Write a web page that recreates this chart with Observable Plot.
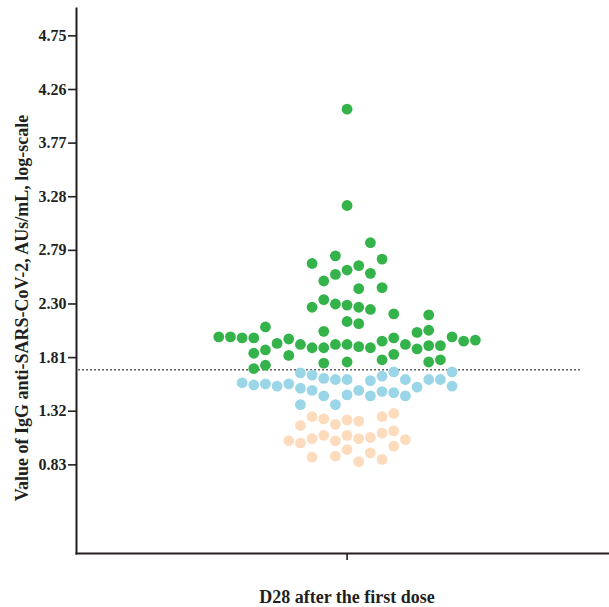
<!DOCTYPE html>
<html>
<head>
<meta charset="utf-8">
<script src="https://cdn.jsdelivr.net/npm/d3@7"></script>
<script src="https://cdn.jsdelivr.net/npm/@observablehq/plot@0.6"></script>
<style>
  html, body { margin: 0; padding: 0; background: #fff; }
  #chart svg { display: block; }
</style>
</head>
<body>
<div id="chart"></div>
<script>
// ---- Data ----
const yTicks = [0.83, 1.32, 1.81, 2.30, 2.79, 3.28, 3.77, 4.26, 4.75];
const cutoff = [1.70];
const groupLabel = "D28 after the first dose";
const yTitle = "Value of IgG anti-SARS-CoV-2, AUs/mL, log-scale";

// swarm column index (0 = centre) and value for each subject
const greenColumn = [0, 0, 2, -1, 3, -3, 1, -1, 0, 2, -2, 1, 3, -2, -3, -1, 0, 1, 2, 4, 7, 0, 1, -2, -7, 7, 6,
  -11, -10, -9, -8, -5, -6, -4, -3, -2, -1, 0, 1, 2, 3, 4, 5, 9, 10, 11,
  -8, -7, -5, 6, 7, 8, -2, 0, 3, 4, 7, 8, -8, -7];
const greenValue = [4.08, 3.20, 2.86, 2.74, 2.71, 2.67, 2.65, 2.57, 2.61, 2.58, 2.51, 2.44, 2.45, 2.34, 2.27, 2.30, 2.29, 2.27, 2.25, 2.21, 2.20, 2.14, 2.12, 2.05, 2.09, 2.06, 2.04,
  2.00, 2.00, 1.99, 1.99, 1.98, 1.94, 1.93, 1.90, 1.90, 1.93, 1.93, 1.91, 1.90, 1.96, 1.99, 1.93, 2.00, 1.96, 1.97,
  1.85, 1.88, 1.83, 1.89, 1.92, 1.92, 1.76, 1.77, 1.79, 1.84, 1.77, 1.79, 1.71, 1.74];

const blueColumn = [-4, -3, -2, -1, 0, 2, 3, 4, 5, 6, 7, 8, 9, 9, -9, -8, -7, -6, -5, -4, -3, -2, 0, 1, 2, 3, 4, 5, -4, -1];
const blueValue = [1.67, 1.65, 1.62, 1.61, 1.61, 1.60, 1.64, 1.68, 1.61, 1.54, 1.61, 1.61, 1.68, 1.55, 1.58, 1.56, 1.57, 1.55, 1.57, 1.53, 1.51, 1.46, 1.47, 1.51, 1.46, 1.50, 1.49, 1.46, 1.38, 1.38];

const peachColumn = [-3, -2, -1, 0, 1, 3, 4, -4, -2, 0, -3, -1, 1, 2, 3, 4, 5, -5, -4, 0, -1, 2, 4, -3, 1, 3];
const peachValue = [1.27, 1.25, 1.20, 1.24, 1.23, 1.27, 1.30, 1.19, 1.10, 1.10, 1.07, 1.05, 1.07, 1.08, 1.12, 1.14, 1.06, 1.05, 1.03, 0.97, 0.91, 0.94, 1.00, 0.90, 0.86, 0.88];

const groupNames = ["green", "blue", "peach"];
const groupColors = ["#33b34a", "#9ad6e7", "#fddbbd"];

// ---- Build rows ----
const rows = [];
greenColumn.forEach((c, i) => rows.push({col: c, value: greenValue[i], group: "green"}));
blueColumn.forEach((c, i) => rows.push({col: c, value: blueValue[i], group: "blue"}));
peachColumn.forEach((c, i) => rows.push({col: c, value: peachValue[i], group: "peach"}));

const serif = "'Liberation Serif', 'Times New Roman', serif";
const ink = "#231f20";

const chart = Plot.plot({
  width: 609,
  height: 607,
  marginTop: 8,
  marginBottom: 54,
  marginLeft: 76,
  marginRight: 0,
  style: {fontFamily: serif, fontWeight: "bold", color: ink, background: "#fff"},
  x: {domain: [-23.2, 22.5]},
  y: {domain: [0.02, 5.0]},
  color: {domain: groupNames, range: groupColors},
  marks: [
    Plot.axisY({ticks: yTicks, tickFormat: d3.format(".2f"), tickSize: 8, tickPadding: 2,
      fontSize: 16, fontWeight: "bold", stroke: ink, strokeWidth: 1.6, label: null}),
    Plot.axisX({ticks: [0], tickSize: 7, tickFormat: () => "", stroke: ink, strokeWidth: 1.6, label: null}),
    Plot.text([yTitle], {frameAnchor: "left", textAnchor: "middle", rotate: -90, dx: -54, dy: 27, fontSize: 18, fontWeight: "bold", fill: ink}),
    Plot.text([groupLabel], {frameAnchor: "bottom", dx: 4, dy: 49, fontSize: 18, fontWeight: "bold", fill: ink}),
    Plot.frame({anchor: "left", stroke: ink, strokeWidth: 2}),
    Plot.frame({anchor: "bottom", stroke: ink, strokeWidth: 2}),
    Plot.ruleY(cutoff, {x1: -23, x2: 20, stroke: ink, strokeWidth: 1.5, strokeDasharray: "1.4,2.6"}),
    Plot.dot(rows, {x: "col", y: "value", fill: "group", r: 5.4, stroke: "none"})
  ]
});
document.getElementById("chart").appendChild(chart);
</script>
</body>
</html>
